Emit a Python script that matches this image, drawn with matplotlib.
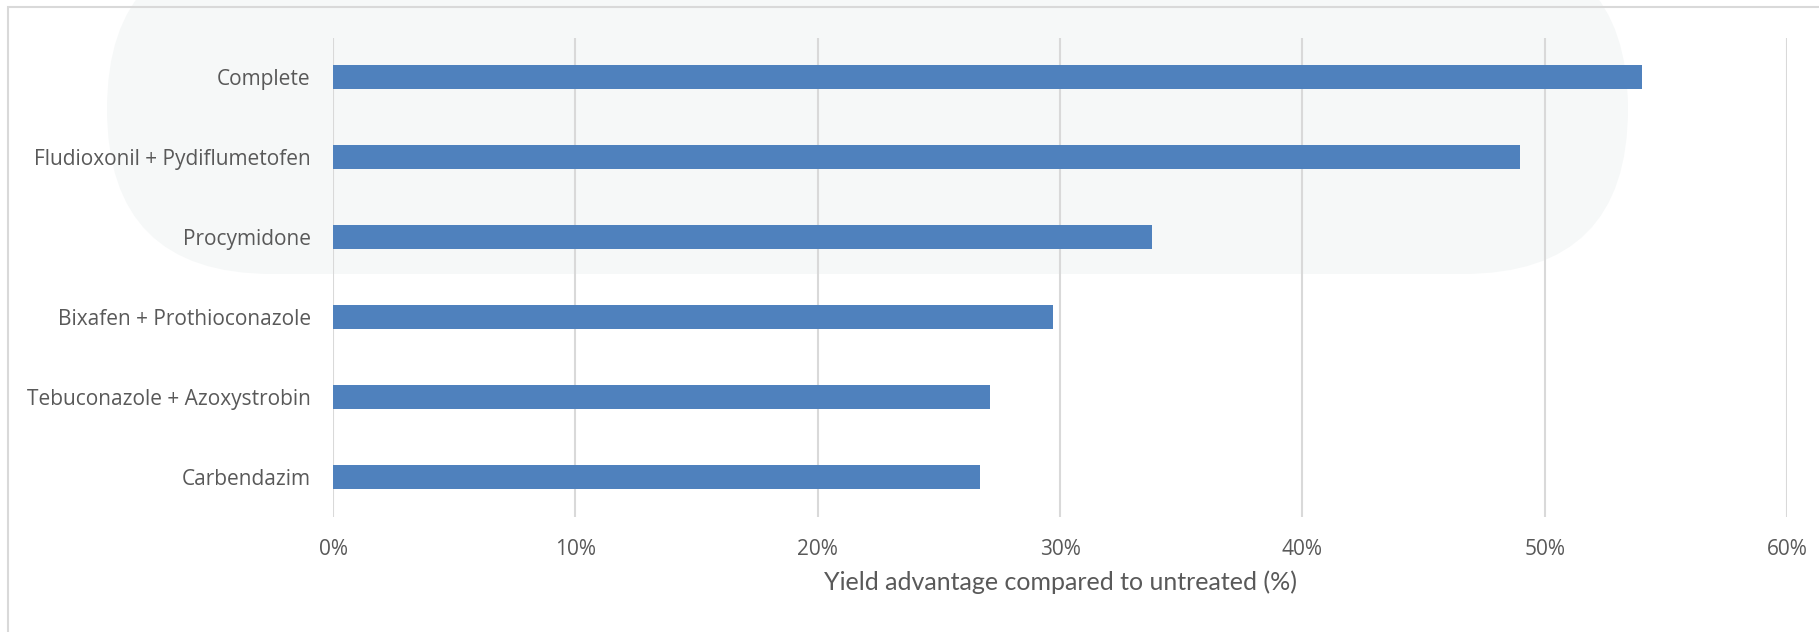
import matplotlib
matplotlib.use("Agg")
import matplotlib.pyplot as plt
from matplotlib.patches import FancyBboxPatch, Rectangle
from matplotlib.transforms import IdentityTransform
from matplotlib.ticker import PercentFormatter


# -----------------------------
# DATA
# -----------------------------
treatments = [
    "Complete",
    "Fludioxonil + Pydiflumetofen",
    "Procymidone",
    "Bixafen + Prothioconazole",
    "Tebuconazole + Azoxystrobin",
    "Carbendazim",
]
yield_adv = [54.0, 49.0, 33.8, 29.7, 27.1, 26.7]
x_ticks = [0, 10, 20, 30, 40, 50, 60]


# -----------------------------
# STYLE
# -----------------------------
bar_color = "#4f81bd"
grid_color = "#d9d9d9"
text_color = "#595959"
W, H = 1819, 632


# -----------------------------
# FIGURE
# -----------------------------
fig = plt.figure(figsize=(W / 100, H / 100), dpi=100)

# faint watermark panel behind the chart (pixel coords)
wm = FancyBboxPatch((107, H - 274), 1628 - 107, 330,
                    boxstyle="round,pad=0,rounding_size=165",
                    transform=IdentityTransform(), facecolor="#f6f8f8",
                    edgecolor="none", zorder=0)
fig.patches.append(wm)

# outer chart border
border = Rectangle((8, -20), W + 50, H - 7 + 20, transform=IdentityTransform(),
                   facecolor="none", edgecolor="#d9d9d9", linewidth=1.5, zorder=0)
fig.patches.append(border)

ax = fig.add_axes([333 / W, 1 - 517 / H, (1787 - 333) / W, (517 - 37.5) / H])
ax.set_facecolor("none")
ax.set_zorder(2)

ypos = list(range(len(treatments)))
ax.barh(ypos, yield_adv, height=0.3, color=bar_color, zorder=3)
ax.set_ylim(len(treatments) - 0.5, -0.5)
ax.set_yticks(ypos)
ax.set_yticklabels(treatments)

ax.set_xlim(0, 60)
ax.set_xticks(x_ticks)
ax.xaxis.set_major_formatter(PercentFormatter(decimals=0))
ax.grid(axis="x", color=grid_color, linewidth=1.5, zorder=0)
ax.set_axisbelow(True)

for s in ax.spines.values():
    s.set_visible(False)
ax.tick_params(length=0, colors=text_color, labelsize=15)
ax.tick_params(axis="y", pad=16)
ax.tick_params(axis="x", pad=16)
for lab in ax.get_xticklabels() + ax.get_yticklabels():
    lab.set_family("Open Sans")

ax.set_xlabel("Yield advantage compared to untreated (%)", fontsize=18,
              family="Lato", color=text_color, labelpad=7)

plt.savefig("out.png", dpi=100)
plt.close()
